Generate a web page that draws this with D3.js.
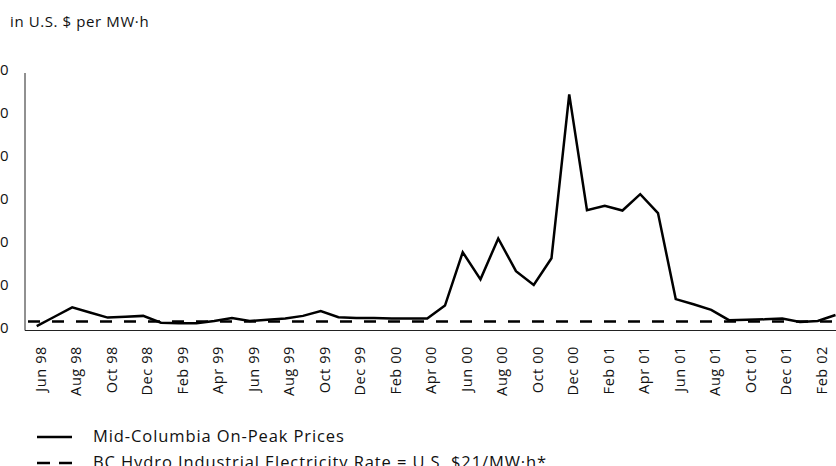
<!DOCTYPE html>
<html>
<head>
<meta charset="utf-8">
<script src="https://cdn.jsdelivr.net/npm/d3@7"></script>
<style>
  html, body { margin: 0; padding: 0; background: #fff; }
  svg { display: block; font-family: "Open Sans", "Noto Sans", sans-serif; }
</style>
</head>
<body>
<svg id="chart" width="836" height="466"></svg>
<script>
const months = ["Jun 98","Jul 98","Aug 98","Sep 98","Oct 98","Nov 98","Dec 98",
  "Jan 99","Feb 99","Mar 99","Apr 99","May 99","Jun 99","Jul 99","Aug 99","Sep 99","Oct 99","Nov 99","Dec 99",
  "Jan 00","Feb 00","Mar 00","Apr 00","May 00","Jun 00","Jul 00","Aug 00","Sep 00","Oct 00","Nov 00","Dec 00",
  "Jan 01","Feb 01","Mar 01","Apr 01","May 01","Jun 01","Jul 01","Aug 01","Sep 01","Oct 01","Nov 01","Dec 01",
  "Jan 02","Feb 02","Mar 02"];
const midColumbia = [10,32,54,42,30,32,34,
  18,17,17,22,29,22,25,28,34,45,31,29,
  29,28,28,28,58,182,119,214,138,106,168,549,
  280,290,279,317,273,73,61,48,24,25,26,28,
  20,22,36];
const bcHydroRate = 21;
const tickLabels = ["Jun 98","Aug 98","Oct 98","Dec 98","Feb 99","Apr 99","Jun 99","Aug 99","Oct 99","Dec 99",
  "Feb 00","Apr 00","Jun 00","Aug 00","Oct 00","Dec 00","Feb 01","Apr 01","Jun 01","Aug 01","Oct 01","Dec 01","Feb 02"];
const yTicks = [0,100,200,300,400,500,600];
const title = "in U.S. $ per MW·h";
const legendLabels = ["Mid-Columbia On-Peak Prices", "BC Hydro Industrial Electricity Rate = U.S. $21/MW·h*"];

const svg = d3.select("#chart");
const x = d3.scalePoint().domain(months).range([36.7, 835.5]);
const y = d3.scaleLinear().domain([0, 600]).range([330.5, 72.5]);

// title
svg.append("text").attr("x", 10).attr("y", 27)
  .attr("font-size", 15).attr("letter-spacing", 0.6).attr("fill", "#111").text(title);

// axes lines
svg.append("line").attr("x1", 25).attr("x2", 25).attr("y1", 73).attr("y2", y(0))
  .attr("stroke", "#222").attr("stroke-width", 1);
svg.append("line").attr("x1", 25).attr("x2", 836).attr("y1", y(0)).attr("y2", y(0))
  .attr("stroke", "#222").attr("stroke-width", 1);

// y labels (clipped at left edge as in reference)
svg.append("g").selectAll("text").data(yTicks).join("text")
  .attr("x", 8.5).attr("y", d => y(d) - 2.5).attr("dy", "0.35em")
  .attr("text-anchor", "end").attr("font-size", 15).attr("fill", "#111")
  .text(d => d);

// x labels
svg.append("g").selectAll("text").data(tickLabels).join("text")
  .attr("transform", d => `translate(${x(d) + 4},346) rotate(-90)`)
  .attr("dy", "0.35em").attr("text-anchor", "end")
  .attr("font-size", 14.5).attr("letter-spacing", 0.6).attr("fill", "#111").text(d => d);

// BC Hydro dashed line
svg.append("line").attr("x1", 28).attr("x2", 836)
  .attr("y1", y(bcHydroRate)).attr("y2", y(bcHydroRate))
  .attr("stroke", "#000").attr("stroke-width", 2.5).attr("stroke-dasharray", "12,12");

// Mid-Columbia line
const line = d3.line().x((d, i) => x(months[i])).y(d => y(d));
svg.append("path").datum(midColumbia).attr("d", line)
  .attr("fill", "none").attr("stroke", "#000").attr("stroke-width", 2.5)
  .attr("stroke-linejoin", "miter");

// legend
const lg = svg.append("g");
lg.append("line").attr("x1", 37).attr("x2", 72).attr("y1", 437).attr("y2", 437)
  .attr("stroke", "#000").attr("stroke-width", 2.5);
lg.append("line").attr("x1", 37).attr("x2", 72).attr("y1", 463).attr("y2", 463)
  .attr("stroke", "#000").attr("stroke-width", 2.5).attr("stroke-dasharray", "13,9");
lg.selectAll("text").data(legendLabels).join("text")
  .attr("x", 93).attr("y", (d, i) => 442 + i * 26)
  .attr("font-size", 16.5).attr("letter-spacing", 0.9).attr("fill", "#111").text(d => d);
</script>
</body>
</html>
